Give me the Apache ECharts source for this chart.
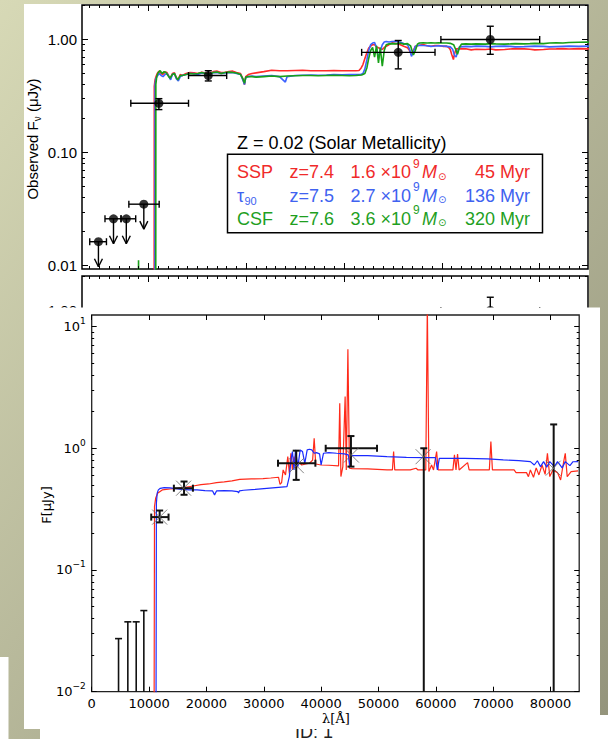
<!DOCTYPE html>
<html><head><meta charset="utf-8">
<script src="https://cdn.jsdelivr.net/npm/echarts@6.0.0/dist/echarts.min.js"></script>
<style>html,body{margin:0;padding:0;background:#c4c5a5}#c{width:608px;height:739px}</style>
</head><body><div id="c"></div>
<script>
// ---------------- TOP PANEL (Z = 0.02): wavelength [micron], flux [uJy] ----------------
const topSSP = [[1.058,0.0001],[1.060,0.386],[1.068,0.44],[1.078,0.47],[1.09,0.50],[1.108,0.525],[1.13,0.50],[1.147,0.49],[1.17,0.515],[1.19,0.51],[1.21,0.47],[1.227,0.458],[1.245,0.50],[1.266,0.507],[1.285,0.46],[1.306,0.443],[1.325,0.49],[1.346,0.48],[1.386,0.50],[1.425,0.51],[1.465,0.507],[1.505,0.50],[1.545,0.514],[1.585,0.505],[1.624,0.50],[1.664,0.52],[1.703,0.525],[1.743,0.51],[1.783,0.514],[1.822,0.52],[1.862,0.525],[1.90,0.51],[1.942,0.50],[1.965,0.45],[1.982,0.40],[1.995,0.47],[2.021,0.49],[2.06,0.50],[2.101,0.507],[2.18,0.52],[2.26,0.535],[2.34,0.53],[2.418,0.529],[2.50,0.532],[2.577,0.535],[2.66,0.53],[2.736,0.529],[2.82,0.53],[2.895,0.532],[2.98,0.53],[3.054,0.529],[3.12,0.53],[3.153,0.532],[3.175,0.56],[3.193,0.60],[3.213,0.68],[3.233,0.762],[3.252,0.84],[3.272,0.873],[3.292,0.90],[3.312,0.903],[3.332,0.86],[3.352,0.844],[3.372,0.83],[3.391,0.816],[3.411,0.85],[3.431,0.873],[3.46,0.90],[3.491,0.934],[3.53,0.92],[3.570,0.903],[3.61,0.87],[3.649,0.844],[3.67,0.80],[3.689,0.736],[3.709,0.80],[3.729,0.873],[3.77,0.89],[3.808,0.903],[3.85,0.88],[3.888,0.873],[3.93,0.885],[3.967,0.885],[4.01,0.87],[4.047,0.873],[4.07,0.85],[4.086,0.816],[4.10,0.74],[4.118,0.665],[4.13,0.75],[4.146,0.827],[4.2,0.83],[4.245,0.827],[4.3,0.81],[4.35,0.82],[4.444,0.816],[4.5,0.825],[4.55,0.81],[4.642,0.816],[4.7,0.825],[4.75,0.83],[4.841,0.827],[4.9,0.82],[4.95,0.81],[5.039,0.816],[5.1,0.825],[5.17,0.827],[5.238,0.83],[5.3,0.825],[5.4,0.83],[5.504,0.827]];
const topTau = [[1.066,0.0001],[1.068,0.40],[1.076,0.45],[1.088,0.47],[1.11,0.50],[1.13,0.48],[1.15,0.47],[1.17,0.49],[1.19,0.50],[1.21,0.47],[1.227,0.44],[1.245,0.49],[1.266,0.50],[1.285,0.45],[1.306,0.43],[1.325,0.47],[1.346,0.48],[1.386,0.49],[1.425,0.50],[1.465,0.50],[1.505,0.49],[1.545,0.505],[1.585,0.50],[1.624,0.49],[1.664,0.51],[1.703,0.51],[1.743,0.50],[1.783,0.505],[1.822,0.51],[1.862,0.51],[1.90,0.50],[1.942,0.49],[1.965,0.44],[1.982,0.40],[1.995,0.46],[2.021,0.47],[2.06,0.475],[2.101,0.47],[2.18,0.475],[2.26,0.48],[2.34,0.47],[2.40,0.42],[2.418,0.47],[2.50,0.48],[2.577,0.483],[2.66,0.485],[2.736,0.483],[2.82,0.485],[2.895,0.49],[2.98,0.488],[3.054,0.49],[3.12,0.49],[3.17,0.49],[3.193,0.50],[3.213,0.55],[3.233,0.66],[3.252,0.80],[3.272,0.90],[3.292,0.93],[3.312,0.94],[3.332,0.85],[3.352,0.68],[3.372,0.80],[3.391,0.90],[3.411,0.95],[3.431,0.96],[3.46,0.95],[3.491,0.96],[3.53,0.965],[3.570,0.95],[3.61,0.92],[3.649,0.90],[3.67,0.82],[3.689,0.71],[3.709,0.78],[3.729,0.87],[3.77,0.89],[3.808,0.885],[3.85,0.88],[3.888,0.87],[3.93,0.875],[3.967,0.88],[4.01,0.875],[4.047,0.87],[4.086,0.86],[4.11,0.82],[4.13,0.72],[4.146,0.70],[4.16,0.78],[4.18,0.86],[4.245,0.87],[4.3,0.865],[4.35,0.873],[4.444,0.87],[4.5,0.86],[4.55,0.87],[4.642,0.873],[4.7,0.87],[4.75,0.86],[4.841,0.865],[4.9,0.87],[4.95,0.873],[5.039,0.87],[5.1,0.86],[5.17,0.865],[5.238,0.87],[5.3,0.873],[5.4,0.87],[5.504,0.873]];
const topCSF = [[0.893,0.0001],[0.899,0.0112],[0.905,0.0001],[1.074,0.0001],[1.076,0.40],[1.085,0.47],[1.10,0.51],[1.12,0.53],[1.14,0.50],[1.16,0.52],[1.18,0.51],[1.20,0.48],[1.22,0.455],[1.245,0.49],[1.266,0.50],[1.285,0.46],[1.30,0.44],[1.325,0.48],[1.346,0.48],[1.386,0.49],[1.425,0.50],[1.465,0.495],[1.505,0.50],[1.545,0.51],[1.585,0.50],[1.624,0.495],[1.664,0.51],[1.703,0.515],[1.743,0.50],[1.783,0.51],[1.822,0.515],[1.862,0.51],[1.90,0.505],[1.942,0.49],[1.965,0.45],[1.982,0.41],[1.995,0.465],[2.021,0.47],[2.06,0.47],[2.101,0.465],[2.18,0.47],[2.26,0.475],[2.34,0.47],[2.418,0.475],[2.50,0.478],[2.577,0.48],[2.66,0.48],[2.736,0.478],[2.82,0.48],[2.895,0.482],[2.98,0.48],[3.054,0.478],[3.12,0.48],[3.18,0.485],[3.213,0.50],[3.233,0.56],[3.252,0.68],[3.272,0.80],[3.292,0.85],[3.312,0.70],[3.332,0.88],[3.352,0.62],[3.37,0.85],[3.391,0.58],[3.411,0.80],[3.431,0.90],[3.46,0.915],[3.491,0.92],[3.53,0.915],[3.570,0.93],[3.61,0.91],[3.649,0.92],[3.68,0.88],[3.709,0.73],[3.729,0.80],[3.75,0.91],[3.77,0.93],[3.808,0.934],[3.85,0.93],[3.888,0.935],[3.93,0.93],[3.967,0.934],[4.01,0.93],[4.047,0.93],[4.086,0.925],[4.12,0.90],[4.146,0.80],[4.16,0.74],[4.18,0.85],[4.2,0.91],[4.245,0.915],[4.3,0.91],[4.35,0.915],[4.444,0.91],[4.5,0.92],[4.55,0.915],[4.642,0.91],[4.7,0.915],[4.75,0.92],[4.841,0.915],[4.9,0.92],[4.95,0.925],[5.039,0.92],[5.1,0.93],[5.17,0.935],[5.238,0.93],[5.3,0.94],[5.4,0.945],[5.504,0.947]];
const topObsX   = [0.489, 0.643, 0.774, 0.953, 1.107, 1.612, 3.554, 4.495];
const topObsY   = [0.0163, 0.026, 0.026, 0.035, 0.273, 0.48, 0.77, 1.00];
const topObsXLo = [0.40, 0.556, 0.72, 0.80, 0.82, 1.41, 3.18, 3.99];
const topObsXHi = [0.571, 0.72, 0.87, 1.11, 1.41, 1.80, 3.93, 5.00];
const topObsYLo = [0, 0, 0, 0, 0.24, 0.43, 0.55, 0.74];
const topObsYHi = [0, 0, 0, 0, 0.30, 0.53, 0.98, 1.31];
const topObsUpperLimit = [1, 1, 1, 1, 0, 0, 0, 0];
const topXMajorTicks = [1, 2, 3, 4, 5];
const topYTickValues = [0.01, 0.1, 1];
const topYTickLabels = ['0.01', '0.10', '1.00'];
const legendTitle = 'Z = 0.02 (Solar Metallicity)';
const legendModels = ['SSP', 'τ', 'CSF'];
const legendModelSub = ['', '90', ''];
const legendRedshift = ['z=7.4', 'z=7.5', 'z=7.6'];
const legendMass = ['1.6 ×10', '2.7 ×10', '3.6 ×10'];
const legendMassExp = ['9', '9', '9'];
const legendAge = ['45 Myr', '136 Myr', '320 Myr'];
const legendColors = ['#f02a2a', '#4062f0', '#1f9f1f'];
const topLineColors = ['#ff2a2a', '#3c62ff', '#18a018'];

// ---------------- BOTTOM PANEL: wavelength [Angstrom], flux [uJy] ----------------
const botRed = [[10810,0.0001],[10950,0.332],[11150,0.388],[11490,0.427],[12300,0.455],[13650,0.463],[15000,0.469],[16350,0.478],[17700,0.49],[19050,0.503],[20400,0.509],[21760,0.522],[23110,0.529],[24460,0.539],[25810,0.556],[27840,0.56],[29870,0.563],[31220,0.57],[32570,0.578],[32840,0.506],[33110,0.522],[33380,0.664],[33790,0.604],[34190,0.854],[34460,0.623],[34730,0.91],[35000,0.664],[35270,0.854],[35680,0.685],[36080,0.777],[36620,0.729],[37300,0.743],[37970,0.753],[38520,0.80],[38790,1.21],[39060,0.743],[40000,0.729],[41350,0.725],[43040,0.716],[43250,2.34],[43450,0.585],[43790,0.707],[44190,2.66],[44390,0.664],[44670,6.51],[44940,0.685],[45410,0.681],[48110,0.676],[51490,0.664],[52430,0.664],[52640,0.939],[52840,0.664],[55540,0.664],[56560,0.685],[56900,0.664],[58250,0.664],[58520,15],[58790,0.643],[59260,0.729],[59600,0.664],[60140,0.939],[60410,0.664],[62980,0.664],[63250,0.882],[63520,0.664],[63790,0.898],[64060,0.664],[65540,0.762],[65810,0.664],[69330,0.664],[69600,1.134],[69870,0.664],[73650,0.664],[73990,0.631],[75810,0.631],[76150,0.585],[76490,0.664],[77030,0.578],[77500,0.69],[77980,0.604],[78520,0.729],[79060,0.61],[79460,0.91],[79870,0.585],[80410,0.664],[81220,0.631],[81760,0.549],[82240,0.75],[82570,0.91],[82910,0.585],[83590,0.643],[84800,0.651]];
const botBlue = [[11150,0.0001],[11280,0.353],[11420,0.427],[11620,0.455],[11960,0.469],[12640,0.475],[13650,0.472],[14660,0.466],[15680,0.46],[17030,0.455],[18380,0.455],[19730,0.449],[21080,0.446],[21420,0.414],[21760,0.446],[23110,0.449],[24460,0.446],[25470,0.44],[25600,0.43],[25750,0.446],[26490,0.452],[28510,0.46],[30540,0.469],[32570,0.478],[34050,0.484],[34460,0.585],[34730,0.80],[35000,0.939],[35270,0.664],[35540,0.969],[35950,0.707],[36350,0.969],[36760,0.939],[37160,0.753],[37570,0.969],[37970,0.981],[38380,0.969],[38790,0.91],[39190,0.92],[39730,0.90],[40000,0.729],[40410,0.91],[41350,0.921],[42700,0.91],[44060,0.90],[44730,0.882],[45000,0.72],[45270,0.87],[48110,0.87],[51490,0.854],[54870,0.843],[58250,0.838],[59940,0.838],[60270,0.664],[60610,0.827],[65000,0.827],[69060,0.817],[71760,0.802],[74460,0.792],[76490,0.777],[77170,0.729],[77710,0.79],[78250,0.707],[78790,0.777],[79330,0.70],[79870,0.777],[80680,0.707],[81220,0.777],[82030,0.69],[82570,0.777],[83380,0.72],[83920,0.775],[84800,0.777]];
const botErrX   = [11850, 16100, 35660, 45200, 57900, 80550];
const botErrY   = [0.272, 0.47, 0.754, 1.0, 0, 0];
const botErrXLo = [10380, 14330, 32480, 40800, 0, 0];
const botErrXHi = [13400, 17650, 39000, 49750, 0, 0];
const botErrYLo = [0.246, 0.415, 0.55, 0.707, 0, 0];
const botErrYHi = [0.308, 0.533, 0.956, 1.26, 1.0, 1.57];
const botLimX   = [4680, 6300, 7760, 9090];
const botLimYHi = [0.0273, 0.0375, 0.0375, 0.0464];
const botModelX = [11850, 16020, 35680, 45280, 57780, 80460];
const botModelY = [0.272, 0.47, 0.72, 0.88, 0.853, 0.686];
const botXTicks = [0, 10000, 20000, 30000, 40000, 50000, 60000, 70000, 80000];
const botYTickValues = [0.01, 0.1, 1, 10];
const botYTickExp = ['−2', '−1', '0', '1'];

// ---------------- helpers ----------------
const lg = v => Math.log10(v);
const toLog = arr => arr.map(p => [p[0], lg(p[1])]);
function logMinor(lo, hi) {
  const out = [];
  for (let e = -4; e <= 2; e++) for (let k = 2; k <= 9; k++) { const v = lg(k * Math.pow(10, e)); if (v > lo && v < hi) out.push(v); }
  return out;
}
function linMinor(lo, hi, step, major) {
  const out = [];
  for (let i = Math.ceil(lo / step); i * step < hi; i++) { const v = +(i * step).toFixed(6); if (!major.some(m => Math.abs(m - v) < 1e-9)) out.push(v); }
  return out;
}
function mkAxis(grid, pos, min, max, ticks, len, label, z) {
  return {
    type: 'value', gridIndex: grid, position: pos, min: min, max: max,
    axisLine: { show: false, onZero: false },
    splitLine: { show: false },
    axisTick: { show: ticks.length > 0, inside: true, length: len, customValues: ticks, lineStyle: { color: '#000', width: 1 } },
    axisLabel: label ? Object.assign({ show: true, customValues: ticks }, label) : { show: false },
    z: z
  };
}

// top panel geometry in data space
const TXMIN = 0.321, TXMAX = 5.494, TYMIN = -2.029, TYMAX = 0.305;
const topXMinor = linMinor(TXMIN, TXMAX, 0.1, topXMajorTicks);
const topYMajor = topYTickValues.map(lg);
const topYMinor = logMinor(TYMIN, TYMAX);
const topYLabel = {
  margin: 5, fontSize: 15, fontFamily: 'Liberation Sans', color: '#000',
  formatter: v => { const i = topYMajor.findIndex(t => Math.abs(t - v) < 1e-6); return i >= 0 ? topYTickLabels[i] : ''; }
};
const BXMIN = 0, BXMAX = 85000, BYMIN = -2, BYMAX = 1.095;
const botYMajor = botYTickValues.map(lg);
const botYMinor = logMinor(BYMIN, BYMAX);
const botXLabel = { margin: 5, fontSize: 13, fontFamily: 'DejaVu Sans', color: '#000', formatter: v => String(Math.round(v)) };
const botYLabel = {
  margin: 6, fontFamily: 'DejaVu Sans', color: '#000',
  formatter: v => { const i = botYMajor.findIndex(t => Math.abs(t - v) < 1e-6); return i >= 0 ? '{b|10}{s|' + botYTickExp[i] + '}' : ''; },
  rich: { b: { fontSize: 13, lineHeight: 20, fontFamily: 'DejaVu Sans', color: '#000' }, s: { fontSize: 9, lineHeight: 10, verticalAlign: 'top', fontFamily: 'DejaVu Sans', color: '#000' } }
};

const xAxes = [], yAxes = [];
function topAxes(g, z, withLabel) {
  xAxes.push(mkAxis(g, 'bottom', TXMIN, TXMAX, topXMajorTicks, 6, null, z));
  xAxes.push(mkAxis(g, 'bottom', TXMIN, TXMAX, topXMinor, 3, null, z));
  xAxes.push(mkAxis(g, 'top', TXMIN, TXMAX, topXMajorTicks, 6, null, z));
  xAxes.push(mkAxis(g, 'top', TXMIN, TXMAX, topXMinor, 3, null, z));
  yAxes.push(mkAxis(g, 'left', TYMIN, TYMAX, topYMajor, 6, withLabel ? topYLabel : null, z));
  yAxes.push(mkAxis(g, 'left', TYMIN, TYMAX, topYMinor, 3, null, z));
  yAxes.push(mkAxis(g, 'right', TYMIN, TYMAX, topYMajor, 6, null, z));
  yAxes.push(mkAxis(g, 'right', TYMIN, TYMAX, topYMinor, 3, null, z));
}
topAxes(0, 8, true);   // axes 0-3
topAxes(1, 1, true);   // axes 4-7 (second, partly hidden panel)
xAxes.push(mkAxis(2, 'bottom', BXMIN, BXMAX, botXTicks, 5, botXLabel, 8));
xAxes.push(mkAxis(2, 'bottom', BXMIN, BXMAX, [], 3, null, 8));
xAxes.push(mkAxis(2, 'top', BXMIN, BXMAX, botXTicks, 5, null, 8));
xAxes.push(mkAxis(2, 'top', BXMIN, BXMAX, [], 3, null, 8));
yAxes.push(mkAxis(2, 'left', BYMIN, BYMAX, botYMajor, 5, botYLabel, 8));
yAxes.push(mkAxis(2, 'left', BYMIN, BYMAX, botYMinor, 2.5, null, 8));
yAxes.push(mkAxis(2, 'right', BYMIN, BYMAX, botYMajor, 5, null, 8));
yAxes.push(mkAxis(2, 'right', BYMIN, BYMAX, botYMinor, 2.5, null, 8));

// ---------------- error bar renderers ----------------
const topErrData = topObsX.map((x, i) => [x, lg(topObsY[i]), topObsXLo[i], topObsXHi[i], topObsYLo[i] ? lg(topObsYLo[i]) : 0, topObsYHi[i] ? lg(topObsYHi[i]) : 0, topObsUpperLimit[i]]);
function topErr(params, api) {
  const x = api.value(0), y = api.value(1);
  const c = api.coord([x, y]), a = api.coord([api.value(2), y]), b = api.coord([api.value(3), y]);
  const st = { stroke: '#000', lineWidth: 1.4 }, cap = 3.5, ch = [];
  const L = (x1, y1, x2, y2) => ch.push({ type: 'line', shape: { x1: x1, y1: y1, x2: x2, y2: y2 }, style: st });
  L(a[0], c[1], b[0], c[1]); L(a[0], c[1] - cap, a[0], c[1] + cap); L(b[0], c[1] - cap, b[0], c[1] + cap);
  if (api.value(6)) {
    const len = 25; L(c[0], c[1], c[0], c[1] + len);
    L(c[0] - 4, c[1] + len - 8, c[0], c[1] + len); L(c[0] + 4, c[1] + len - 8, c[0], c[1] + len);
  } else {
    const lo = api.coord([x, api.value(4)]), hi = api.coord([x, api.value(5)]);
    L(c[0], lo[1], c[0], hi[1]); L(c[0] - cap, lo[1], c[0] + cap, lo[1]); L(c[0] - cap, hi[1], c[0] + cap, hi[1]);
  }
  return { type: 'group', children: ch };
}
const botErrData = botErrX.map((x, i) => [x, botErrY[i] ? lg(botErrY[i]) : BYMIN, botErrXLo[i], botErrXHi[i], botErrYLo[i] ? lg(botErrYLo[i]) : BYMIN, lg(botErrYHi[i]), botErrXLo[i] ? 1 : 0]);
const botLimData = botLimX.map((x, i) => [x, BYMIN, 0, 0, BYMIN, lg(botLimYHi[i]), 0]);
function botErr(lw) {
  return function (params, api) {
    const x = api.value(0), y = api.value(1);
    const c = api.coord([x, y]);
    const st = { stroke: '#111', lineWidth: lw }, cap = 3.5, ch = [];
    const L = (x1, y1, x2, y2) => ch.push({ type: 'line', shape: { x1: x1, y1: y1, x2: x2, y2: y2 }, style: st });
    if (api.value(6)) {
      const a = api.coord([api.value(2), y]), b = api.coord([api.value(3), y]);
      L(a[0], c[1], b[0], c[1]); L(a[0], c[1] - cap, a[0], c[1] + cap); L(b[0], c[1] - cap, b[0], c[1] + cap);
    }
    const lo = api.coord([x, api.value(4)]), hi = api.coord([x, api.value(5)]);
    L(c[0], lo[1], c[0], hi[1]); L(c[0] - cap, hi[1], c[0] + cap, hi[1]);
    if (api.value(4) > BYMIN) L(c[0] - cap, lo[1], c[0] + cap, lo[1]);
    return { type: 'group', children: ch };
  };
}

// ---------------- series ----------------
const series = [];
[topSSP, topTau, topCSF].forEach((d, i) => series.push({ type: 'line', xAxisIndex: 0, yAxisIndex: 0, data: toLog(d), symbol: 'none', clip: true, lineStyle: { color: topLineColors[i], width: 1.6 }, z: 5, silent: true, animation: false }));
[0, 4].forEach((ax, k) => {
  series.push({ type: 'custom', xAxisIndex: ax, yAxisIndex: ax, data: topErrData, renderItem: topErr, encode: { x: 0, y: 1 }, z: k ? 1 : 6, animation: false, silent: true });
  series.push({ type: 'scatter', xAxisIndex: ax, yAxisIndex: ax, data: topObsX.map((x, i) => [x, lg(topObsY[i])]), symbol: 'circle', symbolSize: 9, itemStyle: { color: '#000' }, z: k ? 1 : 7, animation: false, silent: true });
});
series.push({ type: 'line', xAxisIndex: 8, yAxisIndex: 8, data: toLog(botRed), symbol: 'none', clip: true, lineStyle: { color: '#ff2a1a', width: 1.2 }, z: 5, animation: false, silent: true });
series.push({ type: 'line', xAxisIndex: 8, yAxisIndex: 8, data: toLog(botBlue), symbol: 'none', clip: true, lineStyle: { color: '#1a2aff', width: 1.2 }, z: 5, animation: false, silent: true });
series.push({ type: 'custom', xAxisIndex: 8, yAxisIndex: 8, data: botErrData, renderItem: botErr(2), encode: { x: 0, y: 1 }, z: 6, animation: false, silent: true });
series.push({ type: 'custom', xAxisIndex: 8, yAxisIndex: 8, data: botLimData, renderItem: botErr(1.6), encode: { x: 0, y: 1 }, z: 6, animation: false, silent: true });
series.push({ type: 'scatter', xAxisIndex: 8, yAxisIndex: 8, data: botModelX.map((x, i) => [x, lg(botModelY[i])]), symbol: 'path://M0,0L10,10M10,0L0,10', symbolSize: 15, itemStyle: { color: 'none', borderColor: '#666', borderWidth: 1 }, z: 7, animation: false, silent: true });

// ---------------- static decoration / text ----------------
const rowY = [172.3, 195.6, 218.8];
const txt = (x, y, s, o) => Object.assign({ type: 'text', x: x, y: y, z: 10, style: Object.assign({ text: s, fontSize: 18, fontFamily: 'Liberation Sans', fill: '#000', align: 'left', verticalAlign: 'middle' }, o || {}) });
const g = [];
g.push({ type: 'rect', shape: { x: 24, y: 4, width: 565, height: 330 }, style: { fill: '#fff' }, z: 0 });
g.push({ type: 'rect', shape: { x: 40, y: 715, width: 568, height: 24 }, style: { fill: '#fff' }, z: 0 });
g.push({ type: 'rect', shape: { x: 0, y: 657, width: 8.5, height: 82 }, style: { fill: '#fff' }, z: 0 });
g.push(Object.assign(txt(295, 732, 'ID: 1', { fill: '#222' }), { z: 2 }));
g.push({ type: 'rect', shape: { x: 24, y: 307.5, width: 576, height: 421.5 }, style: { fill: '#fff' }, z: 3 });
g.push(txt(237, 143, legendTitle));
g.push({ type: 'rect', shape: { x: 227.5, y: 154.3, width: 315, height: 78.4 }, style: { fill: 'none', stroke: '#000', lineWidth: 1.5 }, z: 10 });
legendModels.forEach((m, i) => {
  const c = legendColors[i], y = rowY[i];
  g.push(txt(237, y, m, { fill: c }));
  if (legendModelSub[i]) g.push(txt(244.5, y + 5.7, legendModelSub[i], { fill: c, fontSize: 11 }));
  g.push(txt(289.5, y, legendRedshift[i], { fill: c }));
  g.push(txt(350.5, y, legendMass[i], { fill: c }));
  g.push(txt(413, y - 8.5, legendMassExp[i], { fill: c, fontSize: 12 }));
  g.push(txt(422, y, 'M', { fill: c, fontStyle: 'italic' }));
  g.push(txt(438, y + 4, '⊙', { fill: c, fontSize: 10, fontFamily: 'DejaVu Sans' }));
  g.push(txt(530, y, legendAge[i], { fill: c, align: 'right' }));
});
g.push({ type: 'text', x: 32, y: 139, rotation: Math.PI / 2, z: 10, style: { text: '{a|Observed F}{s|ν}{a| (μJy)}', align: 'center', verticalAlign: 'middle', rich: { a: { fontSize: 15, lineHeight: 20, fontFamily: 'Liberation Sans', fill: '#000' }, s: { fontSize: 10, lineHeight: 14, verticalAlign: 'bottom', fontFamily: 'Liberation Sans', fill: '#000' } } } });
g.push({ type: 'text', x: 46.5, y: 505, rotation: Math.PI / 2, z: 10, style: { text: 'F[μJy]', fontSize: 13, fontFamily: 'DejaVu Sans', fill: '#000', align: 'center', verticalAlign: 'middle' } });
g.push({ type: 'text', x: 336, y: 718, z: 10, style: { text: 'λ[Å]', fontSize: 13, fontFamily: 'DejaVu Serif', fill: '#000', align: 'center', verticalAlign: 'middle' } });

const chart = echarts.init(document.getElementById('c'), null, { renderer: 'svg', width: 608, height: 739 });
chart.setOption({
  animation: false,
  backgroundColor: { type: 'linear', x: 0, y: 0, x2: 1, y2: 1, colorStops: [{ offset: 0, color: '#d7d9b6' }, { offset: 1, color: '#93937b' }] },
  grid: [
    { left: 82, top: 5, width: 506, height: 264, show: true, borderColor: '#000', borderWidth: 1.5, backgroundColor: 'transparent', z: 4 },
    { left: 82, top: 276, width: 506, height: 264, show: true, borderColor: '#000', borderWidth: 1.5, backgroundColor: 'transparent', z: 1 },
    { left: 91.7, top: 315, width: 487.5, height: 376.7, show: true, borderColor: '#222', borderWidth: 1.3, backgroundColor: 'transparent', z: 4 }
  ],
  xAxis: xAxes, yAxis: yAxes, series: series, graphic: { elements: g }
});
</script></body></html>
